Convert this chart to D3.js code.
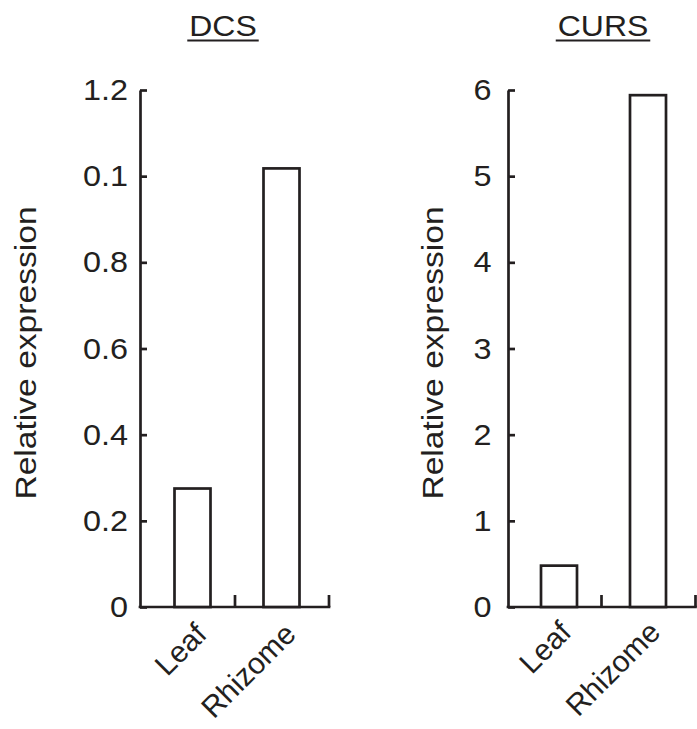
<!DOCTYPE html>
<html>
<head>
<meta charset="utf-8">
<script src="https://cdn.jsdelivr.net/npm/d3@7"></script>
<style>
  body { margin: 0; background: #fff; }
  text { font-family: "Liberation Sans", Arial, Helvetica, sans-serif; fill: #231f20; }
</style>
</head>
<body>
<script>
// data
var categories = ["Leaf", "Rhizome"];
var dcsValues = [0.275, 1.018];
var cursValues = [0.48, 5.94];
var dcsTicks = [0, 0.2, 0.4, 0.6, 0.8, 1.0, 1.2];
var dcsTickLabels = ["0", "0.2", "0.4", "0.6", "0.8", "0.1", "1.2"];
var cursTicks = [0, 1, 2, 3, 4, 5, 6];
var cursTickLabels = ["0", "1", "2", "3", "4", "5", "6"];

var ink = "#231f20";
var fontSize = 30;
var sw = 2.7;

var svg = d3.select("body").append("svg")
  .attr("width", 697)
  .attr("height", 729);

var panels = [
  { title: "DCS", values: dcsValues, max: 1.2, ticks: dcsTicks, labels: dcsTickLabels,
    axisX: 140, bandOff: 8, labelPad: 12, yTitleX: 36, titleX: 223, catY: 636, catDx: 16 },
  { title: "CURS", values: cursValues, max: 6, ticks: cursTicks, labels: cursTickLabels,
    axisX: 508, bandOff: 6.5, labelPad: 16.5, yTitleX: 443, titleX: 603, catY: 634, catDx: 14 }
];

var yTop = 90, yBottom = 607;
var step = 89, barW = 36;

panels.forEach(function (p) {
  var g = svg.append("g");

  var y = d3.scaleLinear().domain([0, p.max]).range([yBottom, yTop]);
  var x = d3.scaleBand().domain(categories)
    .range([p.axisX + p.bandOff, p.axisX + p.bandOff + step * categories.length])
    .padding(0);

  // y axis, ticks pointing inward
  var yAxis = d3.axisLeft(y)
    .tickValues(p.ticks)
    .tickFormat(function (d, i) { return p.labels[i]; })
    .tickSizeInner(-7)
    .tickSizeOuter(0)
    .tickPadding(p.labelPad);

  var ya = g.append("g")
    .attr("transform", "translate(" + p.axisX + ",0)")
    .call(yAxis);
  ya.select(".domain").attr("stroke", ink).attr("stroke-width", sw);
  ya.selectAll(".tick line").attr("stroke", ink).attr("stroke-width", sw);
  ya.selectAll(".tick text")
    .style("font-size", fontSize + "px")
    .attr("fill", ink)
    .attr("x", -p.labelPad / 1.08)
    .attr("transform", "scale(1.08,1)");

  // x axis line
  var xEnd = x.range()[1] + 3;
  g.append("line")
    .attr("x1", p.axisX - sw / 2).attr("x2", xEnd + sw / 2)
    .attr("y1", yBottom).attr("y2", yBottom)
    .attr("stroke", ink).attr("stroke-width", sw);

  // category boundary ticks (pointing up)
  g.selectAll(".xtick")
    .data(categories)
    .enter().append("line")
    .attr("class", "xtick")
    .attr("x1", function (d, i) { return i === categories.length - 1 ? xEnd : x(d) + x.bandwidth() - 2; })
    .attr("x2", function (d, i) { return i === categories.length - 1 ? xEnd : x(d) + x.bandwidth() - 2; })
    .attr("y1", yBottom)
    .attr("y2", yBottom - 12)
    .attr("stroke", ink).attr("stroke-width", sw);

  // bars
  g.selectAll(".bar")
    .data(p.values)
    .enter().append("rect")
    .attr("class", "bar")
    .attr("x", function (d, i) { return x(categories[i]) + x.bandwidth() / 2 - barW / 2; })
    .attr("y", function (d) { return y(d); })
    .attr("width", barW)
    .attr("height", function (d) { return y(0) - y(d); })
    .attr("fill", "#fff")
    .attr("stroke", ink)
    .attr("stroke-width", sw);

  // category labels
  g.selectAll(".xlabel")
    .data(categories)
    .enter().append("text")
    .attr("class", "xlabel")
    .attr("text-anchor", "end")
    .style("font-size", fontSize + "px")
    .attr("transform", function (d) {
      var cx = x(d) + x.bandwidth() / 2 + p.catDx;
      return "translate(" + cx + "," + p.catY + ") rotate(-45)";
    })
    .text(function (d) { return d; });

  // y title
  g.append("text")
    .attr("text-anchor", "middle")
    .style("font-size", fontSize + "px")
    .attr("transform", "translate(" + p.yTitleX + "," + 353 + ") rotate(-90) scale(1.12,1)")
    .text("Relative expression");

  // panel title with underline
  var t = g.append("text")
    .attr("text-anchor", "middle")
    .style("font-size", fontSize + "px")
    .attr("transform", "translate(" + p.titleX + ",36) scale(1.065,1)")
    .text(p.title);
  var w = t.node().getComputedTextLength() * 1.065 + 4;
  g.append("line")
    .attr("x1", p.titleX - w / 2).attr("x2", p.titleX + w / 2)
    .attr("y1", 40.5).attr("y2", 40.5)
    .attr("stroke", ink).attr("stroke-width", 2.2);
});
</script>
</body>
</html>
